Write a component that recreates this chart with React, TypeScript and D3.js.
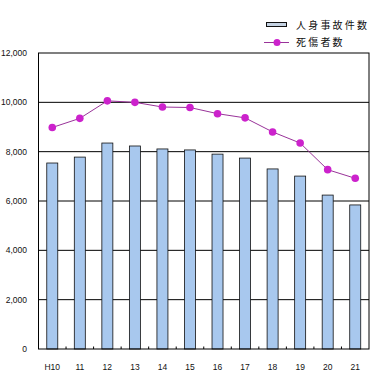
import React from "react";
import * as d3 from "d3";

const categories = ["H10", "11", "12", "13", "14", "15", "16", "17", "18", "19", "20", "21"];
const accidents = [7540, 7780, 8350, 8230, 8110, 8070, 7900, 7740, 7300, 7010, 6240, 5840];
const casualties = [8980, 9350, 10060, 10000, 9810, 9790, 9540, 9370, 8800, 8350, 7270, 6920];
const yTicks = [0, 2000, 4000, 6000, 8000, 10000, 12000];
const legendLabels = ["人身事故件数", "死傷者数"];

export default function App() {
  const W = 380, H = 376;
  const left = 38.5, right = 369, top = 53, bottom = 349;
  const x = d3.scaleBand<string>().domain(categories).range([left, right]).paddingInner(0).paddingOuter(0);
  const y = d3.scaleLinear().domain([0, 12000]).range([bottom, top]);
  const barW = 11;
  const fmt = d3.format(",");
  const line = d3.line<number>()
    .x((_, i) => (x(categories[i]) as number) + x.bandwidth() / 2)
    .y((d) => y(d));
  const font = "'Liberation Sans', Arial, sans-serif";
  const jp = "'Noto Sans CJK JP', sans-serif";
  return (
    <svg width={W} height={H} style={{ position: "absolute", left: 0, top: 0, background: "#fff" }}>
      <rect x={0} y={0} width={W} height={H} fill="#fff" />
      {yTicks.map((t) => (
        <g key={t}>
          {t > 0 && t < 12000 && (
            <line x1={left} x2={right} y1={y(t)} y2={y(t)} stroke="#000" strokeWidth={1} />
          )}
          <text x={27} y={y(t)} dy="0.35em" textAnchor="end" fontSize={8.5} fontFamily={font} fill="#111">
            {fmt(t)}
          </text>
        </g>
      ))}
      {accidents.map((v, i) => (
        <rect
          key={categories[i]}
          x={(x(categories[i]) as number) + x.bandwidth() / 2 - barW / 2}
          y={y(v)}
          width={barW}
          height={bottom - y(v)}
          fill="#a8c8ee"
          stroke="#111"
          strokeWidth={0.8}
        />
      ))}
      <rect x={left} y={top} width={right - left} height={bottom - top} fill="none" stroke="#000" strokeWidth={1} />
      {categories.slice(1).map((c) => (
        <line key={c} x1={x(c) as number} x2={x(c) as number} y1={bottom} y2={bottom - 2.5} stroke="#000" strokeWidth={1} />
      ))}
      <path d={line(casualties) || ""} fill="none" stroke="#993399" strokeWidth={1} />
      {casualties.map((v, i) => (
        <circle key={categories[i]} cx={(x(categories[i]) as number) + x.bandwidth() / 2} cy={y(v)} r={3.8} fill="#cc22cc" />
      ))}
      {categories.map((c) => (
        <text key={c} x={(x(c) as number) + x.bandwidth() / 2} y={367} dy="0.35em" textAnchor="middle" fontSize={8.5} fontFamily={font} fill="#111">
          {c}
        </text>
      ))}
      <rect x={266.5} y={22.5} width={20} height={4} fill="#c4d2e2" stroke="#111" strokeWidth={1} />
      <text x={296} y={25} dy="0.35em" fontSize={10} fontFamily={jp} letterSpacing={2.2} fill="#111">
        {legendLabels[0]}
      </text>
      <line x1={264} x2={289} y1={42.5} y2={42.5} stroke="#993399" strokeWidth={1} />
      <circle cx={277} cy={42.5} r={3.5} fill="#cc22cc" />
      <text x={296} y={42.5} dy="0.35em" fontSize={10} fontFamily={jp} letterSpacing={2.2} fill="#111">
        {legendLabels[1]}
      </text>
    </svg>
  );
}
